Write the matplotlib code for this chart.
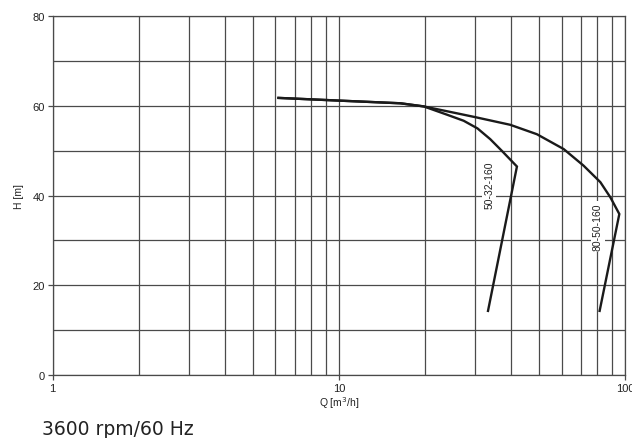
import numpy as np
import matplotlib
matplotlib.use("Agg")
import matplotlib.pyplot as plt
from matplotlib.ticker import FixedLocator, NullLocator, NullFormatter

# pump curves (Q in m3/h, H in m)
q_50_32_160 = [6.15, 10.0, 16.4, 19.8, 24.0, 27.3, 30.5, 33.8, 37.1, 41.9, 33.2]
h_50_32_160 = [61.8, 61.2, 60.6, 59.9, 58.0, 56.7, 55.0, 52.6, 50.0, 46.5, 14.3]

q_80_50_160 = [6.15, 10.0, 16.4, 19.8, 26.6, 30.0, 39.7, 49.2, 61.0, 71.6, 82.0, 88.9, 95.5, 81.5]
h_80_50_160 = [61.8, 61.2, 60.6, 59.9, 58.2, 57.5, 55.8, 53.7, 50.4, 46.7, 43.0, 39.6, 35.9, 14.3]

curve_labels = ["50-32-160", "80-50-160"]
label_pos = [(33.5, 42.6), (80.4, 33.1)]

x_grid = [1, 2, 3, 4, 5, 6, 7, 8, 9, 10, 20, 30, 40, 50, 60, 70, 80, 90, 100]
y_grid = [0, 10, 20, 30, 40, 50, 60, 70, 80]
x_ticks = [1, 10, 100]
y_ticks = [0, 20, 40, 60, 80]

plt.rcParams['font.family'] = ['Liberation Sans', 'DejaVu Sans']

fig = plt.figure(figsize=(6.32, 4.39), dpi=100)
ax = fig.add_axes([0.0834, 0.1435, 0.9056, 0.8171])

ax.set_xscale('log')
ax.set_xlim(1, 100)
ax.set_ylim(0, 80)

grid_color = '#4a4a4a'
for xv in x_grid:
    ax.axvline(xv, color=grid_color, lw=0.9, zorder=1)
for yv in y_grid:
    ax.axhline(yv, color=grid_color, lw=0.9, zorder=1)

ax.plot(q_50_32_160, h_50_32_160, color='#1a1a1a', lw=1.7, zorder=4,
        solid_joinstyle='miter')
ax.plot(q_80_50_160, h_80_50_160, color='#1a1a1a', lw=1.7, zorder=4,
        solid_joinstyle='miter')

for name, (qx, hy) in zip(curve_labels, label_pos):
    ax.text(qx, hy, name, rotation=90, ha='center', va='center',
            fontsize=7.5, color='#222222', zorder=3,
            bbox=dict(facecolor='white', edgecolor='none', pad=1.5))

ax.xaxis.set_major_locator(FixedLocator(x_ticks))
ax.xaxis.set_minor_locator(NullLocator())
ax.xaxis.set_minor_formatter(NullFormatter())
ax.set_xticklabels([str(v) for v in x_ticks])
ax.yaxis.set_major_locator(FixedLocator(y_ticks))
ax.tick_params(axis='both', labelsize=8, length=3.5, width=0.9,
               color=grid_color, labelcolor='#222222', pad=2)

for sp in ax.spines.values():
    sp.set_color(grid_color)
    sp.set_linewidth(0.9)

ax.set_xlabel("Q [m$^3$/h]", fontsize=7.5, color='#222222', labelpad=1)
ax.set_ylabel("H [m]", fontsize=7.5, color='#222222', labelpad=6)

fig.text(42 / 632, 1 - 435 / 439, "3600 rpm/60 Hz", fontsize=13.5,
         family='DejaVu Sans', color='#222222', ha='left', va='baseline')

fig.savefig("out.png", dpi=100)
